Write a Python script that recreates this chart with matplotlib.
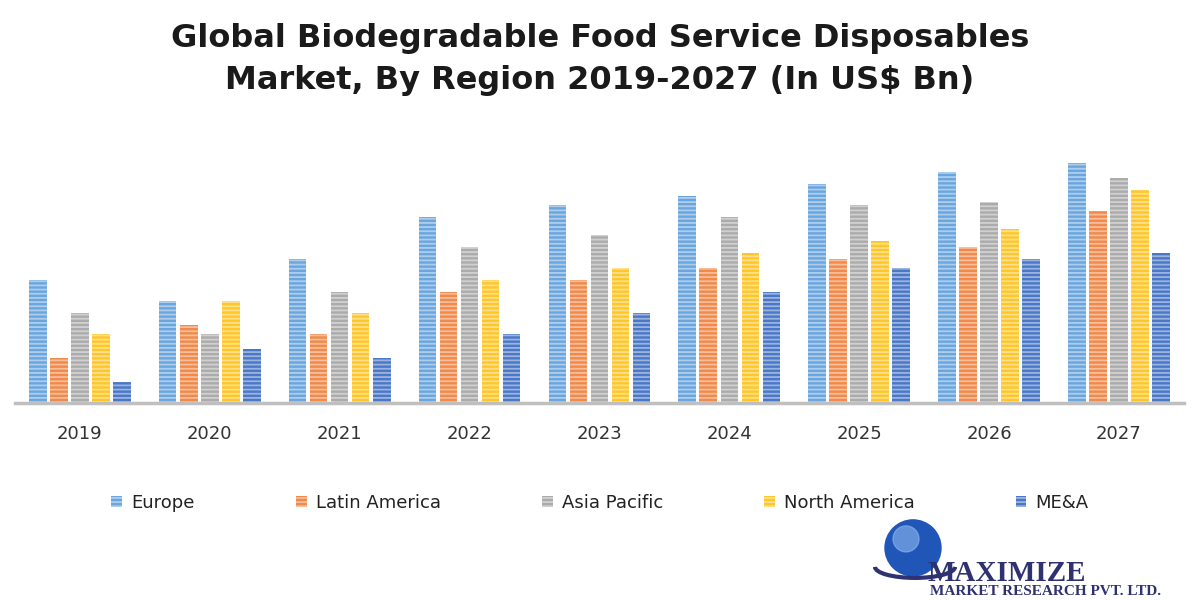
import numpy as np
import matplotlib.pyplot as plt
from matplotlib.patches import Circle, Arc

years = ["2019", "2020", "2021", "2022", "2023", "2024", "2025", "2026", "2027"]
regions = ["Europe", "Latin America", "Asia Pacific", "North America", "ME&A"]

europe = [4.1, 3.4, 4.8, 6.2, 6.6, 6.9, 7.3, 7.7, 8.0]
latin_america = [1.5, 2.6, 2.3, 3.7, 4.1, 4.5, 4.8, 5.2, 6.4]
asia_pacific = [3.0, 2.3, 3.7, 5.2, 5.6, 6.2, 6.6, 6.7, 7.5]
north_america = [2.3, 3.4, 3.0, 4.1, 4.5, 5.0, 5.4, 5.8, 7.1]
mea = [0.7, 1.8, 1.5, 2.3, 3.0, 3.7, 4.5, 4.8, 5.0]

colors = ["#6AA5DE", "#F0894A", "#ABABAB", "#FFC62A", "#4A77C6"]
series = [europe, latin_america, asia_pacific, north_america, mea]

plt.rcParams["hatch.linewidth"] = 1.3

fig = plt.figure(figsize=(12, 6), dpi=100)
ax = fig.add_axes([0.0125, 0.328, 0.974, 0.41])

x = np.arange(len(years))
pitch = 0.162
width = 0.135
for i, (name, vals, c) in enumerate(zip(regions, series, colors)):
    ax.bar(x + (i - 2) * pitch, vals, width, color=c, label=name,
           edgecolor=(1, 1, 1, 0.45), linewidth=0, hatch="----")

ax.set_xlim(-0.5, len(years) - 0.5)
ax.set_ylim(0, 8.2)
for s in ["top", "right", "left"]:
    ax.spines[s].set_visible(False)
ax.spines["bottom"].set_color("#BFBFBF")
ax.spines["bottom"].set_linewidth(2.5)
ax.set_yticks([])
ax.set_xticks(x)
ax.set_xticklabels(years, fontsize=13, color="#333333")
ax.tick_params(axis="x", length=0, pad=16)

fig.text(0.5, 0.962, "Global Biodegradable Food Service Disposables\nMarket, By Region 2019-2027 (In US$ Bn)",
         ha="center", va="top", fontsize=23, fontweight="bold", color="#1a1a1a",
         linespacing=1.45)

leg = fig.legend(loc="center", bbox_to_anchor=(0.5, 0.162), ncol=5, frameon=False,
                 fontsize=13, handlelength=0.6, handleheight=0.6, handletextpad=0.5,
                 columnspacing=5.6)
for t in leg.get_texts():
    t.set_color("#222222")

# logo
lax = fig.add_axes([0.725, 0.025, 0.075, 0.117])
lax.set_xlim(0, 90)
lax.set_ylim(0, 70)
lax.set_aspect("equal")
lax.axis("off")
lax.add_patch(Circle((43, 37), 28, color="#1f56b8"))
lax.add_patch(Circle((36, 46), 13, color="#8fb8f0", alpha=0.6))
lax.add_patch(Arc((45, 18), 80, 22, theta1=180, theta2=360, color="#2e3270", lw=3))
fig.text(0.773, 0.032, "MAXIMIZE", fontsize=21, fontweight="bold", family="Liberation Serif",
         color="#2e3270", ha="left", va="baseline")
fig.text(0.775, 0.008, "MARKET RESEARCH PVT. LTD.", fontsize=11, fontweight="bold",
         family="Liberation Serif", color="#2e3270", ha="left", va="baseline")

fig.savefig("out.png", dpi=100)
